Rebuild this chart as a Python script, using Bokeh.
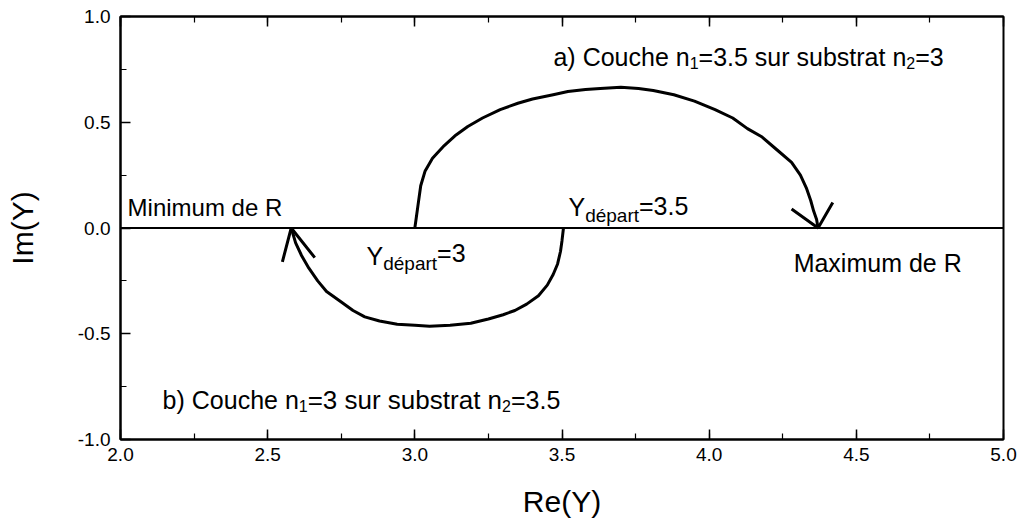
from bokeh.plotting import figure
from bokeh.models import (Range1d, SingleIntervalTicker, NumeralTickFormatter, LinearAxis,
                          Label, CustomJSTickFormatter)
from bokeh.embed import file_html
from bokeh.resources import INLINE

# ---- data ----
arc_a_re = [3.00, 3.005, 3.01, 3.02, 3.035, 3.06, 3.10, 3.14, 3.18, 3.23, 3.29, 3.35, 3.40, 3.47,
            3.52, 3.58, 3.63, 3.70, 3.76, 3.81, 3.88, 3.95, 4.02, 4.08, 4.13, 4.18, 4.23, 4.28,
            4.31, 4.33, 4.345, 4.355, 4.365, 4.37]
arc_a_im = [0.00, 0.05, 0.10, 0.20, 0.27, 0.33, 0.39, 0.44, 0.48, 0.52, 0.56, 0.59, 0.61, 0.63,
            0.645, 0.655, 0.66, 0.665, 0.66, 0.65, 0.63, 0.60, 0.56, 0.52, 0.47, 0.43, 0.37, 0.31,
            0.25, 0.19, 0.13, 0.08, 0.04, 0.00]
arc_b_re = [3.505, 3.50, 3.495, 3.485, 3.47, 3.45, 3.42, 3.38, 3.34, 3.30, 3.25, 3.19, 3.12, 3.05,
            3.00, 2.94, 2.88, 2.83, 2.79, 2.75, 2.70, 2.67, 2.64, 2.615, 2.595, 2.58]
arc_b_im = [0.00, -0.06, -0.11, -0.17, -0.22, -0.27, -0.32, -0.36, -0.39, -0.41, -0.43, -0.45, -0.46,
            -0.465, -0.46, -0.455, -0.44, -0.42, -0.39, -0.35, -0.30, -0.25, -0.19, -0.13, -0.07, 0.00]
arrow_a_re = [[4.28, 4.37, 4.42]]
arrow_a_im = [[0.09, 0.00, 0.12]]
arrow_b_re = [[2.55, 2.58, 2.66]]
arrow_b_im = [[-0.16, 0.00, -0.14]]
zero_re = [2.0, 5.0]
zero_im = [0.0, 0.0]
x_limits = (2.0, 5.0)
y_limits = (-1.0, 1.0)

FONT = "Liberation Sans"

p = figure(width=1022, height=520, output_backend="svg", toolbar_location=None,
           x_range=Range1d(*x_limits), y_range=Range1d(*y_limits),
           min_border_left=120, min_border_right=19, min_border_top=16, min_border_bottom=77)
p.grid.visible = False
p.outline_line_color = "black"
p.outline_line_width = 2
p.background_fill_color = "white"
p.border_fill_color = "white"

for ax in (p.xaxis[0], p.yaxis[0]):
    ax.ticker = SingleIntervalTicker(interval=0.5, num_minor_ticks=2)
    ax.formatter = NumeralTickFormatter(format="0.0")
    ax.axis_line_width = 2
    ax.major_tick_in = 10
    ax.major_tick_out = 0
    ax.minor_tick_in = 6
    ax.minor_tick_out = 0
    ax.major_tick_line_width = 1.5
    ax.minor_tick_line_width = 1.2
    ax.major_label_text_font = FONT
    ax.major_label_text_font_size = "19px"
    ax.major_label_text_color = "black"
    ax.axis_label_text_font = FONT
    ax.axis_label_text_font_size = "30px"
    ax.axis_label_text_font_style = "normal"
    ax.axis_label_text_color = "black"

p.xaxis[0].axis_label = "Re(Y)"
p.xaxis[0].major_label_standoff = 8
p.xaxis[0].axis_label_standoff = 21
p.yaxis[0].axis_label = "Im(Y)"
p.yaxis[0].major_label_standoff = 10
p.yaxis[0].axis_label_standoff = 36

top = LinearAxis(ticker=SingleIntervalTicker(interval=0.5, num_minor_ticks=2),
                 formatter=CustomJSTickFormatter(code="return '';"),
                 major_tick_in=10, major_tick_out=0, minor_tick_in=6, minor_tick_out=0,
                 major_tick_line_width=1.5, minor_tick_line_width=1.2,
                 major_label_standoff=0, axis_line_width=2)
p.add_layout(top, "above")

p.line(zero_re, zero_im, line_color="black", line_width=1.8)
p.line(arc_a_re, arc_a_im, line_color="black", line_width=3, line_join="round")
p.line(arc_b_re, arc_b_im, line_color="black", line_width=3, line_join="round")
p.multi_line(arrow_a_re, arrow_a_im, line_color="black", line_width=3)
p.multi_line(arrow_b_re, arrow_b_im, line_color="black", line_width=3)

# Arial / Liberation Sans advance widths (per em) for layout of composite labels
W = {" ": .278, "(": .333, ")": .333, ".": .278, "=": .584, "C": .722, "M": .833, "R": .722,
     "Y": .667, "a": .556, "b": .556, "c": .5, "d": .556, "e": .556, "é": .556, "h": .556,
     "i": .222, "m": .833, "n": .556, "o": .556, "p": .556, "r": .333, "s": .5, "t": .278,
     "u": .556, "x": .5}


def text_w(t, size):
    return sum(W.get(ch, .556) for ch in t) * size


def rich(x, y, pieces):
    off = 0.0
    for t, size, dy in pieces:
        p.add_layout(Label(x=x, y=y, x_offset=off, y_offset=dy, text=t, text_font=FONT,
                           text_font_size=f"{size}px", text_color="black",
                           text_baseline="alphabetic", text_align="left"))
        off += text_w(t, size)


rich(2.024, 0.096, [("Minimum de R", 24, 0)])
rich(4.287, -0.166, [("Maximum de R", 25, 0)])

rich(3.471, 0.808, [("a) Couche n", 25, 0), ("1", 16, -6), ("=3.5 sur substrat n", 25, 0),
                    ("2", 16, -6), ("=3", 25, 0)])
rich(2.143, -0.813, [("b) Couche n", 25, 0), ("1", 16, -6), ("=3 sur substrat n", 26, 0),
                     ("2", 16, -6), ("=3.5", 25, 0)])

rich(3.522, 0.101, [("Y", 25, 0), ("départ", 19, -9), ("=3.5", 25, 1)])
rich(2.836, -0.133, [("Y", 25, 0), ("départ", 19, -7), ("=3", 25, 3)])

open("out.html", "w").write(file_html(p, INLINE))
